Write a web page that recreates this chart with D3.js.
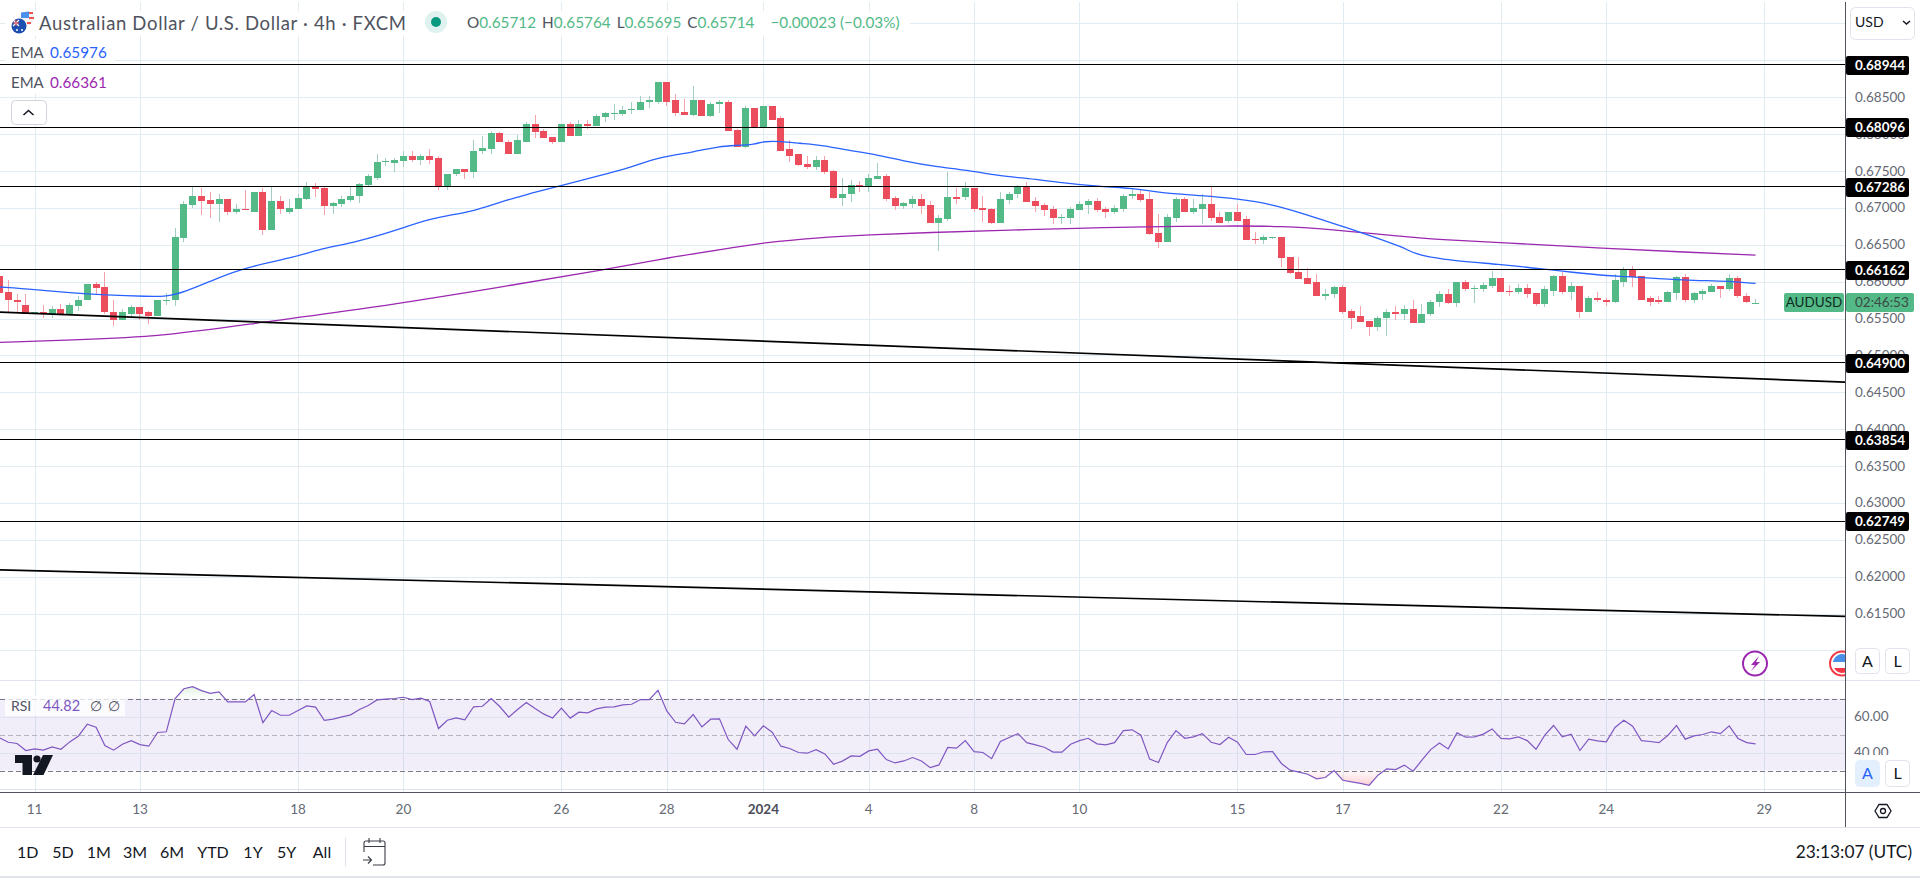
<!DOCTYPE html>
<html><head><meta charset="utf-8">
<style>
html,body{margin:0;padding:0;background:#fff;overflow:hidden}
svg{display:block}
text{font-family:Lato,"Open Sans",sans-serif}
</style>
<script src="https://cdn.jsdelivr.net/npm/d3@7"></script>
</head><body><svg id="c" width="1920" height="878"></svg>
<script>
// All prices are in points of 0.00001
const opens=[66071,65866,65758,65677,65555,65595,65555,65623,65555,65664,
65745,65962,65921,65595,65487,65568,65650,65582,65541,65745,
65745,66586,67033,67168,67101,67047,67114,66951,66979,66951,
67209,66707,67087,66938,66979,67114,67291,67264,67020,67047,
67101,67155,67304,67412,67616,67602,67629,67697,67656,67697,
67670,67291,67453,67521,67480,67765,67792,68009,67900,67737,
67900,68144,68036,67955,67900,68144,67969,68144,68117,68226,
68267,68267,68321,68321,68442,68442,68700,68456,68294,68253,
68456,68240,68415,68429,68050,67819,68348,68090,68388,68212,
67792,67724,67589,67548,67643,67494,67128,67182,67304,67291,
67385,67426,67128,67020,67047,67114,67033,66802,66843,67141,
67141,67264,66993,66979,66802,67101,67182,67277,67087,67033,
66979,66857,66857,66965,67033,67087,66979,66951,66979,67168,
67182,67114,66653,66544,66857,67114,66951,66979,67047,66870,
66829,66951,66843,66572,66558,66586,66599,66328,66125,66043,
65989,65812,65826,65921,65609,65528,65460,65379,65501,65595,
65555,65636,65433,65555,65718,65839,65704,65989,65894,65894,
65935,66043,65880,65866,65908,65853,65691,65880,66071,65866,
65935,65582,65785,65758,65731,66002,66165,66071,65772,65745,
65731,65853,66057,65758,65839,65866,65935,65894,66043,65812,
65712];
const highs=[66098,66016,65826,65826,65595,65677,65664,65691,65704,65812,
65975,66002,66125,65745,65623,65677,65650,65609,65758,65853,
66734,67087,67291,67264,67209,67195,67114,67047,67236,67222,
67264,67291,67168,67114,67195,67345,67331,67277,67074,67168,
67277,67331,67466,67737,67670,67670,67765,67765,67724,67792,
67697,67466,67534,67521,67914,67969,68036,68023,67914,67982,
68158,68253,68063,67955,68144,68171,68185,68198,68267,68294,
68402,68375,68429,68511,68511,68700,68700,68538,68470,68646,
68456,68442,68456,68456,68063,68388,68348,68388,68388,68240,
67914,67737,67710,67710,67697,67507,67399,67372,67358,67466,
67602,67453,67168,67074,67168,67182,67087,66897,67480,67264,
67345,67264,67155,66993,67209,67222,67304,67345,67141,67060,
67020,66924,67006,67087,67114,67128,67006,67033,67182,67264,
67250,67222,66924,66911,67141,67141,67114,67182,67291,66951,
66951,67047,66884,66667,66626,66612,66612,66328,66328,66179,
66098,65894,65935,65948,65623,65664,65460,65528,65623,65664,
65677,65745,65691,65745,65880,65894,65989,66016,65948,65989,
66138,66043,65948,65975,65962,65853,65935,66084,66125,66002,
65935,65812,65866,65772,66098,66192,66206,66071,65812,65812,
65880,66071,66098,65866,65894,65975,65935,66098,66071,65853,
65764];
const lows=[65799,65582,65582,65555,65555,65514,65501,65555,65555,65609,
65745,65826,65568,65393,65487,65514,65487,65420,65528,65677,
65664,66544,66993,66897,66857,66815,66897,66924,66965,66938,
66626,66707,66924,66924,66979,67101,67141,66897,66924,67006,
67074,67060,67277,67372,67562,67480,67548,67616,67575,67589,
67236,67236,67426,67385,67399,67724,67724,67887,67737,67724,
67887,67942,67942,67860,67900,67969,67969,68063,68117,68158,
68185,68240,68267,68321,68361,68402,68375,68240,68253,68240,
68240,68226,68280,68036,67819,67806,68077,68090,68185,67765,
67616,67562,67521,67507,67453,67114,67020,67074,67222,67209,
67385,67087,66965,66979,66993,66924,66802,66409,66829,67047,
67101,66938,66815,66775,66802,67047,67128,67074,66951,66884,
66775,66775,66788,66965,66911,66951,66857,66911,66951,67114,
67074,66626,66463,66544,66815,66951,66924,66775,66829,66802,
66802,66829,66558,66517,66504,66572,66192,66098,66030,65962,
65812,65758,65785,65555,65352,65447,65257,65325,65257,65487,
65487,65433,65433,65528,65650,65691,65650,65880,65704,65866,
65908,65866,65812,65839,65785,65664,65650,65812,65839,65758,
65514,65582,65731,65664,65704,65921,65921,65745,65664,65691,
65731,65745,65718,65704,65758,65866,65772,65880,65785,65704,
65695];
const closes=[65853,65745,65718,65555,65595,65555,65623,65555,65677,65758,
65962,65908,65582,65487,65582,65650,65568,65541,65758,65758,
66599,67047,67168,67087,67047,67114,66951,66979,66965,67209,
66707,67087,66979,66993,67128,67291,67250,67020,67060,67114,
67168,67318,67426,67616,67629,67643,67697,67656,67697,67656,
67291,67466,67521,67480,67778,67806,68009,67887,67737,67914,
68144,68023,67942,67900,68144,67969,68144,68117,68240,68280,
68280,68321,68334,68442,68456,68700,68442,68280,68253,68456,
68240,68415,68429,68036,67819,68348,68090,68388,68198,67778,
67710,67575,67548,67643,67480,67128,67195,67304,67291,67399,
67426,67114,67020,67060,67114,67020,66802,66857,67141,67114,
67264,66979,66965,66802,67114,67195,67277,67074,67020,66965,
66857,66870,66979,67047,67087,66965,66951,66993,67168,67182,
67101,66640,66544,66870,67114,66951,66993,67047,66857,66802,
66951,66829,66558,66558,66599,66599,66315,66111,66030,65975,
65812,65839,65921,65595,65514,65447,65379,65514,65595,65555,
65636,65433,65568,65731,65839,65704,65989,65894,65908,65948,
66043,65866,65866,65908,65839,65691,65894,66071,65866,65935,
65582,65785,65745,65731,66016,66165,66057,65758,65731,65731,
65866,66057,65758,65853,65880,65935,65894,66043,65799,65731,
65714];
// EMA samples: bar index, price points
const emaFastBars=[0,4,8,12,17,19,21,25,28,34,36,41,46,49,54,57,59,61,64,68,72,75,79,82,84,86,87,89,91,94,96,100,103,107,110,114,117,121,125,130,132,137,141,145,148,153,155,160,161,164,171,176,179,183,185,189,193,197,200];
const emaFastVals=[65928,65894,65847,65819,65799,65799,65853,66057,66192,66342,66430,66545,66728,66857,66951,67080,67145,67213,67304,67426,67552,67684,67755,67837,67846,67860,67904,67904,67877,67846,67792,67724,67633,67552,67517,67430,67403,67341,67294,67259,67205,67168,67124,67047,66942,66748,66671,66463,66382,66301,66233,66169,66129,66080,66071,66039,66016,66006,65976];
const emaSlowBars=[0,11,19,30,42,57,69,76,84,87,93,99,106,114,123,130,140,146,152,159,165,171,183,192,200];
const emaSlowVals=[65176,65221,65266,65451,65636,65925,66161,66324,66468,66527,66595,66636,66667,66694,66725,66744,66757,66752,66707,66619,66562,66531,66450,66400,66361];
const rsiVals=[48.1,45.7,45.0,41.1,42.0,41.3,43.1,41.8,45.9,49.2,55.7,54.1,43.9,41.3,44.6,46.6,44.4,43.5,51.1,51.5,
70.0,75.4,76.6,74.4,72.9,73.7,68.1,68.1,68.1,72.2,56.6,63.3,60.7,60.7,63.3,65.9,65.2,57.9,58.5,59.8,
60.9,63.9,66.1,69.2,69.6,70.0,70.7,69.4,70.2,68.3,53.3,57.9,59.2,58.1,65.4,65.7,70.0,65.4,59.6,63.9,
67.8,64.4,61.3,59.2,64.6,59.1,62.4,62.0,64.2,65.2,65.4,66.5,66.8,69.4,69.4,74.6,63.1,56.8,55.9,61.1,
54.2,58.5,58.7,47.2,41.8,54.6,49.2,54.8,51.3,43.5,42.2,40.0,39.6,41.6,39.2,33.5,35.2,38.1,37.9,40.9,
41.8,36.1,34.2,35.3,37.2,35.3,31.6,33.1,42.8,42.4,46.6,40.5,40.0,36.6,46.1,48.3,50.5,45.5,44.2,42.9,
40.2,40.2,44.6,46.6,47.9,44.8,44.2,45.5,52.2,52.6,49.6,36.3,34.4,45.5,52.2,47.9,48.7,50.5,45.7,44.4,
48.5,45.7,38.9,38.9,40.4,40.5,33.9,30.2,29.1,27.9,25.4,26.1,30.0,24.6,23.7,22.8,21.8,27.4,30.9,30.5,
33.0,29.6,35.7,41.6,45.3,42.0,50.9,48.5,48.7,50.2,53.1,47.8,47.6,48.7,46.6,41.8,49.6,55.0,48.7,50.2,
41.1,47.4,46.5,45.9,53.9,57.9,54.6,46.6,46.1,45.5,49.4,55.0,47.4,49.2,50.0,51.5,50.5,54.8,47.8,45.5,44.82];
const levelPrices=[68944,68096,67286,66162,64900,63854,62749];
const trendA=[[0,65586],[210.3,64637]];
const trendB=[[0,62093],[210.3,61461]];
const priceTicks=[68500,68000,67500,67000,66500,66000,65500,65000,64500,64000,63500,63000,62500,62000,61500];
const priceGrid=[69500,69000,68500,68000,67500,67000,66500,66000,65500,65000,64500,64000,63500,63000,62500,62000,61500,61000];
const timeBars=[4,16,34,46,64,76,87,99,111,123,141,153,171,183,201];
const timeLabels=["11","13","18","20","26","28","2024","4","8","10","15","17","22","24","29"];
const rsiTicks=[60,40];
const rsiGrid=[60,40,20];
const rangeLabels=["1D","5D","1M","3M","6M","YTD","1Y","5Y","All"];
const rangeCenters=[27.7,63,98.7,135,172,213,253,286.6,322];
const titleText="Australian Dollar / U.S. Dollar · 4h · FXCM";
const ohlcLabels=["O","H","L","C"];
const ohlcVals=["0.65712","0.65764","0.65695","0.65714"];
const changeText="−0.00023 (−0.03%)";

const UP="#53b987",DOWN="#eb4d5c",GRID="#e1ecf2",AXIS="#50535e",TXT="#666a75";
const svg=d3.select("#c");
const x=d3.scaleLinear().domain([0,201]).range([-0.5,1764.3]);
const y=d3.scaleLinear().domain([68944,64900]).range([64.5,362.8]);
const yr=d3.scaleLinear().domain([70,30]).range([698.5,770.5]);
const cr=v=>Math.round(v)+.5;
const defs=svg.append("defs");
defs.append("clipPath").attr("id","pane").append("rect").attr("x",0).attr("y",2).attr("width",1845).attr("height",678);
defs.append("clipPath").attr("id","rsiUp").append("rect").attr("x",0).attr("y",681).attr("width",1845).attr("height",yr(70)-681);
defs.append("clipPath").attr("id","rsiDn").append("rect").attr("x",0).attr("y",yr(30)).attr("width",1845).attr("height",792-yr(30));
const gu=defs.append("linearGradient").attr("id","gUp").attr("gradientUnits","userSpaceOnUse").attr("x1",0).attr("x2",0).attr("y1",yr(78)).attr("y2",yr(70));
gu.append("stop").attr("offset","0").attr("stop-color","#4caf50").attr("stop-opacity",.2);
gu.append("stop").attr("offset","1").attr("stop-color","#4caf50").attr("stop-opacity",0);
const gd=defs.append("linearGradient").attr("id","gDn").attr("gradientUnits","userSpaceOnUse").attr("x1",0).attr("x2",0).attr("y1",yr(30)).attr("y2",yr(21));
gd.append("stop").attr("offset","0").attr("stop-color","#f23645").attr("stop-opacity",.02);
gd.append("stop").attr("offset","1").attr("stop-color","#f23645").attr("stop-opacity",.25);

// grids
const grid=svg.append("g").attr("shape-rendering","crispEdges");
grid.selectAll(".h").data(priceGrid).join("line").attr("x1",0).attr("x2",1845)
 .attr("y1",d=>cr(y(d))).attr("y2",d=>cr(y(d))).attr("stroke",GRID);
grid.selectAll(".v").data(timeBars).join("line").attr("x1",d=>cr(x(d))).attr("x2",d=>cr(x(d)))
 .attr("y1",2).attr("y2",792).attr("stroke",GRID);

// RSI pane
const rsiG=svg.append("g");
rsiG.append("rect").attr("x",0).attr("y",yr(70)).attr("width",1845).attr("height",yr(30)-yr(70)).attr("fill","#7e57c2").attr("fill-opacity",.1);
rsiG.selectAll(".g").data(rsiGrid).join("line").attr("shape-rendering","crispEdges").attr("x1",0).attr("x2",1845)
 .attr("y1",d=>cr(yr(d))).attr("y2",d=>cr(yr(d))).attr("stroke","#dde3ef");
rsiG.selectAll(".b").data([70,50,30]).join("line").attr("shape-rendering","crispEdges").attr("x1",0).attr("x2",1845)
 .attr("y1",d=>cr(yr(d))).attr("y2",d=>cr(yr(d))).attr("stroke",d=>d===50?"#b5b4c0":"#787b86").attr("stroke-dasharray","5 3");
svg.append("line").attr("shape-rendering","crispEdges").attr("x1",0).attr("x2",1920).attr("y1",680.5).attr("y2",680.5).attr("stroke","#e0e3eb");
rsiG.append("path").datum(rsiVals).attr("clip-path","url(#rsiUp)").attr("fill","url(#gUp)")
 .attr("d",d3.area().x((d,i)=>x(i)).y0(yr(70)).y1(d=>yr(d)));
rsiG.append("path").datum(rsiVals).attr("clip-path","url(#rsiDn)").attr("fill","url(#gDn)")
 .attr("d",d3.area().x((d,i)=>x(i)).y0(yr(30)).y1(d=>yr(d)));
rsiG.append("path").datum(rsiVals).attr("fill","none").attr("stroke","#7e57c2").attr("stroke-width",1.2)
 .attr("d",d3.line().x((d,i)=>x(i)).y(d=>yr(d)));

// candles
const pane=svg.append("g").attr("clip-path","url(#pane)");
const idx=d3.range(opens.length);
const isUp=i=>closes[i]>=opens[i];
pane.append("g").attr("shape-rendering","crispEdges").selectAll("line").data(idx).join("line")
 .attr("x1",i=>cr(x(i)-.5)).attr("x2",i=>cr(x(i)-.5))
 .attr("y1",i=>y(highs[i])).attr("y2",i=>y(lows[i]))
 .attr("stroke",i=>isUp(i)?"#a3cdc1":"#f5a2ad");
pane.append("g").attr("shape-rendering","crispEdges").selectAll("rect").data(idx).join("rect")
 .attr("x",i=>Math.round(x(i)-3.5)).attr("width",7)
 .attr("y",i=>Math.round(y(Math.max(opens[i],closes[i]))))
 .attr("height",i=>Math.max(1,Math.round(y(Math.min(opens[i],closes[i])))-Math.round(y(Math.max(opens[i],closes[i])))))
 .attr("fill",i=>isUp(i)?UP:DOWN);

// EMA
const ln=d3.line().curve(d3.curveBasis);
pane.append("path").attr("fill","none").attr("stroke","#9c27b0").attr("stroke-width",1.3)
 .attr("d",ln(emaSlowBars.map((b,i)=>[x(b),y(emaSlowVals[i])])));
pane.append("path").attr("fill","none").attr("stroke","#2962ff").attr("stroke-width",1.3)
 .attr("d",ln(emaFastBars.map((b,i)=>[x(b),y(emaFastVals[i])])));

// levels & trends
pane.append("g").attr("shape-rendering","crispEdges").selectAll("line").data(levelPrices).join("line")
 .attr("x1",0).attr("x2",1845).attr("y1",d=>Math.floor(y(d))+.5).attr("y2",d=>Math.floor(y(d))+.5).attr("stroke","#000");
pane.selectAll(".t").data([trendA,trendB]).join("line")
 .attr("x1",d=>x(d[0][0])).attr("x2",d=>x(d[1][0])).attr("y1",d=>y(d[0][1])).attr("y2",d=>y(d[1][1]))
 .attr("stroke","#000").attr("stroke-width",1.7);

// events
const ev=svg.append("g");
ev.append("circle").attr("cx",1755).attr("cy",663.5).attr("r",12).attr("fill","#fff").attr("stroke","#9c27b0").attr("stroke-width",2);
ev.append("path").attr("d","M1759 656 L1751 665 L1755 665 L1751 671 L1760 662 L1756 662 Z").attr("fill","#9c27b0");
const fl=ev.append("g");
fl.append("circle").attr("cx",1842).attr("cy",663.5).attr("r",12).attr("fill","#fff").attr("stroke","#f23645").attr("stroke-width",2);
fl.append("path").attr("d","M1833 662 A9.5 9.5 0 0 1 1845 654.5 L1845 662 Z").attr("fill","#4a90e8");
fl.append("path").attr("d","M1834 668 L1845 668 L1845 672.5 A9.5 9.5 0 0 1 1834 668 Z").attr("fill","#f23645");

// right + bottom chrome
svg.append("rect").attr("x",1846).attr("y",0).attr("width",74).attr("height",878).attr("fill","#fff");
svg.append("rect").attr("x",0).attr("y",793).attr("width",1846).attr("height",85).attr("fill","#fff");
const chrome=svg.append("g").attr("shape-rendering","crispEdges");
chrome.append("line").attr("x1",1845.5).attr("x2",1845.5).attr("y1",2).attr("y2",827).attr("stroke",AXIS);
chrome.append("line").attr("x1",0).attr("x2",1920).attr("y1",792.5).attr("y2",792.5).attr("stroke",AXIS);
chrome.append("line").attr("x1",0).attr("x2",1920).attr("y1",827.5).attr("y2",827.5).attr("stroke","#e0e3eb");
chrome.append("line").attr("x1",345.5).attr("x2",345.5).attr("y1",838).attr("y2",866).attr("stroke","#e0e3eb");
chrome.append("line").attr("x1",1846).attr("x2",1920).attr("y1",680.5).attr("y2",680.5).attr("stroke","#e0e3eb");
svg.append("rect").attr("x",0).attr("y",876).attr("width",1920).attr("height",2).attr("fill","#e0e3eb");

// axis text
const tfmt=d=>(d/1e5).toFixed(5);
svg.append("g").selectAll("text").data(priceTicks).join("text").attr("x",1855).attr("y",d=>y(d)+4.5)
 .attr("font-size",13.5).attr("fill",TXT).text(tfmt);
svg.append("g").selectAll("text").data(rsiTicks).join("text").attr("x",1854).attr("y",d=>yr(d)+4.5)
 .attr("font-size",13.5).attr("fill",TXT).text(d=>d.toFixed(2));
svg.append("rect").attr("x",1846).attr("y",755).attr("width",74).attr("height",37).attr("fill","#fff");
svg.append("g").selectAll("text").data(timeBars).join("text").attr("x",d=>x(d)).attr("y",814)
 .attr("text-anchor","middle").attr("font-size",13.5).attr("fill",(d,i)=>timeLabels[i]==="2024"?"#4a4d57":TXT)
 .attr("font-weight",(d,i)=>timeLabels[i]==="2024"?700:400).text((d,i)=>timeLabels[i]);

// black price labels
const lab=svg.append("g");
lab.selectAll("rect").data(levelPrices).join("rect").attr("x",1846).attr("width",63).attr("height",19).attr("rx",2)
 .attr("y",d=>Math.round(y(d))-9).attr("fill","#000");
lab.selectAll("text").data(levelPrices).join("text").attr("x",1855).attr("y",d=>Math.round(y(d))+5)
 .attr("font-size",13.5).attr("font-weight",700).attr("fill","#fff").text(tfmt);

// last price tags
svg.append("rect").attr("x",1784).attr("y",293).attr("width",60).attr("height",19).attr("rx",2).attr("fill",UP);
svg.append("text").attr("x",1814).attr("y",307).attr("text-anchor","middle").attr("font-size",13.5).attr("fill","#0f2b20").text("AUDUSD");
svg.append("rect").attr("x",1846).attr("y",293).attr("width",68).attr("height",19).attr("rx",2).attr("fill",UP);
svg.append("text").attr("x",1855).attr("y",307).attr("font-size",13.5).attr("fill","#3a4a44").text("02:46:53");

// buttons
function btn(bx,by,label,active,w,h){
 svg.append("rect").attr("x",bx+.5).attr("y",by+.5).attr("width",w-1).attr("height",h-1).attr("rx",4)
  .attr("fill",active?"#e3effd":"#fff").attr("stroke",active?"#e3effd":"#e0e3eb");
 svg.append("text").attr("x",bx+w/2).attr("y",by+h/2+5.5).attr("text-anchor","middle").attr("font-size",16)
  .attr("fill",active?"#2962ff":"#131722").text(label);
}
btn(1855,648,"A",false,25,26);btn(1885,648,"L",false,25,26);
btn(1855,760,"A",true,25,27);btn(1885,760,"L",false,25,27);
svg.append("rect").attr("x",1850.5).attr("y",7.5).attr("width",64).attr("height",32).attr("rx",5).attr("fill","#fff").attr("stroke","#e0e3eb");
svg.append("text").attr("x",1855).attr("y",27).attr("font-size",14).attr("fill","#131722").text("USD");
svg.append("path").attr("d","M1903 21 L1906.5 24 L1910 21").attr("fill","none").attr("stroke","#131722").attr("stroke-width",1.5);
// settings hexagon
svg.append("path").attr("d","M1875 811 L1879 804.5 L1887 804.5 L1891 811 L1887 817.5 L1879 817.5 Z").attr("fill","none").attr("stroke","#131722").attr("stroke-width",1.3);
svg.append("circle").attr("cx",1883).attr("cy",811).attr("r",2.5).attr("fill","none").attr("stroke","#131722").attr("stroke-width",1.3);

// bottom toolbar
svg.append("g").selectAll("text").data(rangeLabels).join("text").attr("x",(d,i)=>rangeCenters[i]).attr("y",857.5)
 .attr("text-anchor","middle").attr("font-size",16).attr("fill","#131722").text(d=>d);
const cal=svg.append("g").attr("fill","none").attr("stroke","#3a3d47").attr("stroke-width",1.1);
cal.append("path").attr("d","M364 852 V843 Q364 841 366 841 H383 Q385 841 385 843 V863 Q385 865 383 865 H373");
cal.append("path").attr("d","M364 846.5 H385 M369 838 V843 M380 838 V843 M363 860 H371 M368 856.5 L371.5 860 L368 863.5");
svg.append("text").attr("x",1912).attr("y",858).attr("text-anchor","end").attr("font-size",17.3).attr("fill","#131722").text("23:13:07 (UTC)");

// legend backgrounds
const lg=svg.append("g");
lg.append("rect").attr("x",5).attr("y",11).attr("width",905).attr("height",25).attr("fill","#fff").attr("fill-opacity",.95);
lg.append("rect").attr("x",5).attr("y",39).attr("width",110).attr("height",25).attr("fill","#fff").attr("fill-opacity",.85);
lg.append("rect").attr("x",5).attr("y",69).attr("width",110).attr("height",25).attr("fill","#fff").attr("fill-opacity",.85);
lg.append("rect").attr("x",5).attr("y",696).attr("width",120).attr("height",20).attr("fill","#fff").attr("fill-opacity",.75);

// flags
lg.append("circle").attr("cx",26.5).attr("cy",18.5).attr("r",7.5).attr("fill","#f5f5f5");
lg.append("path").attr("d","M21 12.5 L29 11.5 L29 18 L21 18 Z").attr("fill","#4a90e8");
lg.append("path").attr("d","M29 12 H33 V14 H29 Z M29 17 H34 V19 H29 Z M27 22 H31 V24 H27 Z").attr("fill","#ef5350");
lg.append("circle").attr("cx",19).attr("cy",26).attr("r",7.5).attr("fill","#1c4fb0");
lg.append("path").attr("d","M13 20 L19 26 M19 20 L13 26").attr("stroke","#fff").attr("stroke-width",1.1);
lg.append("path").attr("d","M13 23 H19 M16 19.5 V26").attr("stroke","#ef5350").attr("stroke-width",1);
lg.append("circle").attr("cx",22).attr("cy",30).attr("r",1).attr("fill","#fff");
lg.append("circle").attr("cx",17).attr("cy",30).attr("r",1).attr("fill","#fff");

lg.append("text").attr("x",39).attr("y",29.5).attr("font-size",18.5).attr("textLength",367).attr("lengthAdjust","spacing").attr("fill","#50535e").text(titleText);
lg.append("circle").attr("cx",436).attr("cy",22).attr("r",11).attr("fill","#089981").attr("fill-opacity",.13);
lg.append("circle").attr("cx",436).attr("cy",22).attr("r",5).attr("fill","#089981");
const ot=lg.append("text").attr("x",467).attr("y",28).attr("font-size",15.3);
ohlcLabels.forEach((l,i)=>{
 ot.append("tspan").attr("fill","#50535e").attr("dx",i?6:0).text(l);
 ot.append("tspan").attr("fill",UP).text(ohlcVals[i]);
});
ot.append("tspan").attr("fill",UP).attr("dx",16).text(changeText);
lg.append("text").attr("x",11).attr("y",58).attr("font-size",15).attr("fill","#50535e").text("EMA");
lg.append("text").attr("x",50).attr("y",58).attr("font-size",15.3).attr("fill","#2962ff").text("0.65976");
lg.append("text").attr("x",11).attr("y",88).attr("font-size",15).attr("fill","#50535e").text("EMA");
lg.append("text").attr("x",50).attr("y",88).attr("font-size",15.3).attr("fill","#9c27b0").text("0.66361");
lg.append("rect").attr("x",11.5).attr("y",100.5).attr("width",35).attr("height",24).attr("rx",4).attr("fill","#fff").attr("stroke","#d1d4dc");
lg.append("path").attr("d","M23.5 115 L28.5 110.5 L33.5 115").attr("fill","none").attr("stroke","#131722").attr("stroke-width",1.5);
lg.append("text").attr("x",11).attr("y",711).attr("font-size",14).attr("fill","#50535e").text("RSI");
lg.append("text").attr("x",43).attr("y",711).attr("font-size",14.5).attr("fill","#7e57c2").text("44.82");
lg.append("text").attr("x",90).attr("y",711).attr("font-size",14).attr("fill","#50535e").text("∅");
lg.append("text").attr("x",108).attr("y",711).attr("font-size",14).attr("fill","#50535e").text("∅");

// watermark logo
const logo=svg.append("g").attr("fill","#131722");
logo.append("path").attr("d","M15 755 H32 V775 H22.5 V763 H15 Z");
logo.append("circle").attr("cx",37).attr("cy",759).attr("r",3.6);
logo.append("path").attr("d","M43 755 H53 L43.5 775 H33 Z");
</script></body></html>
